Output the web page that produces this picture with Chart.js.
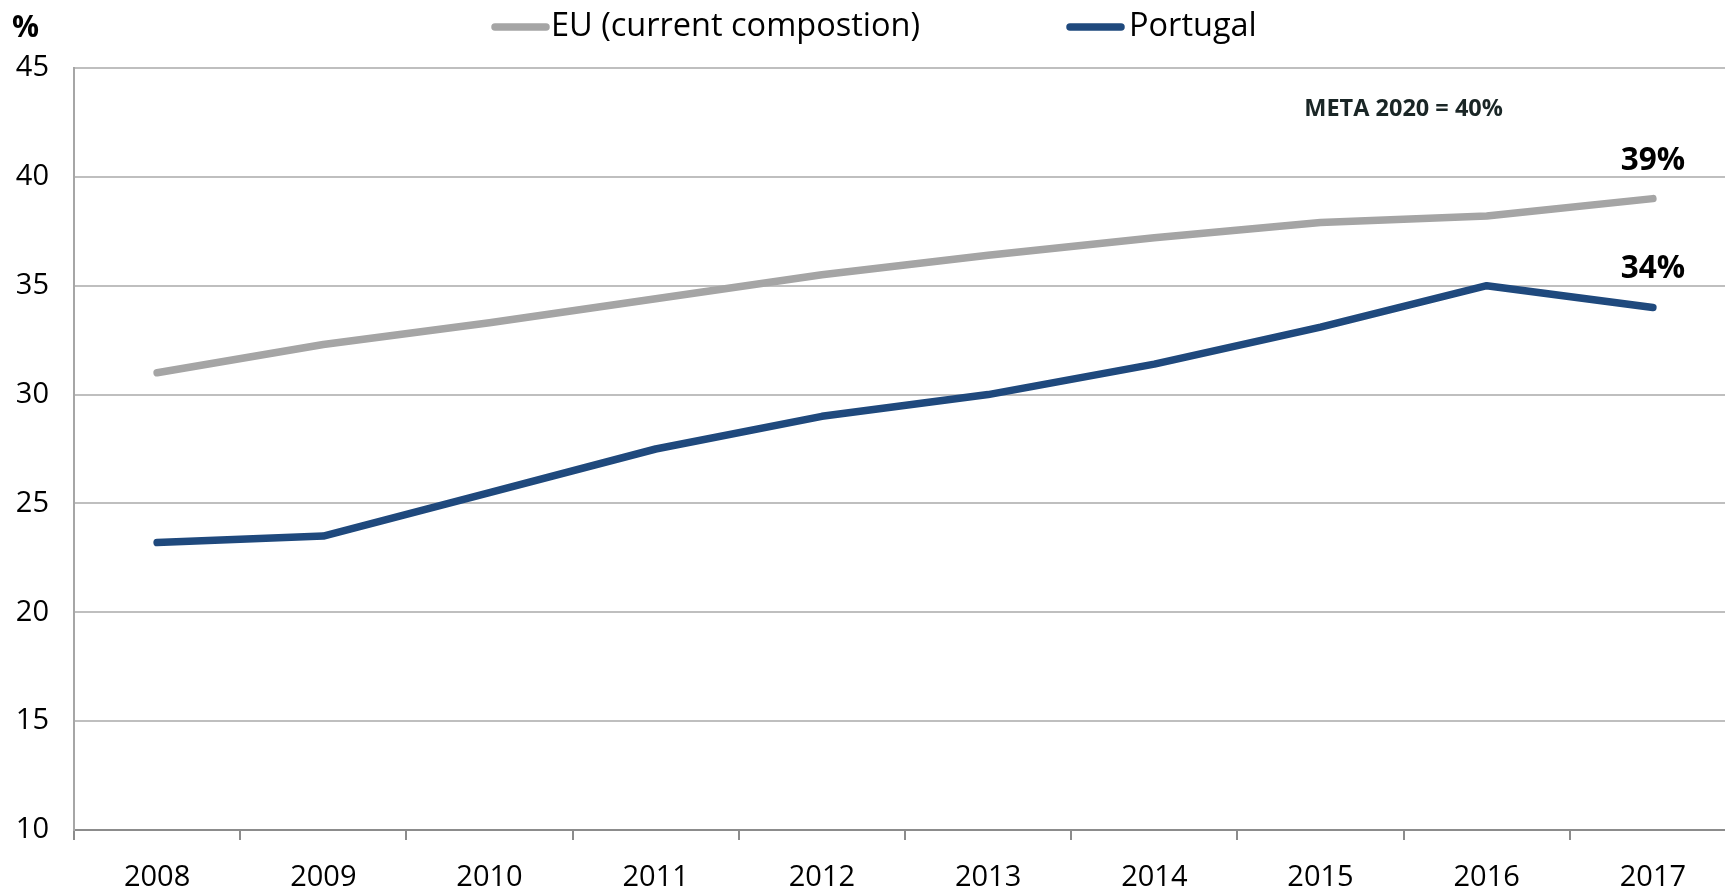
<!DOCTYPE html>
<html><head><meta charset="utf-8">
<script src="https://cdn.jsdelivr.net/npm/chart.js@4"></script>
<style>html,body{margin:0;padding:0;overflow:hidden;background:#fff}#wrap{width:1740px;height:886px}</style>
</head><body><div id="wrap"><canvas id="c" width="1740" height="886"></canvas></div>
<script>
const years = ['2008','2009','2010','2011','2012','2013','2014','2015','2016','2017'];
const euValues = [31.0, 32.3, 33.3, 34.4, 35.5, 36.4, 37.2, 37.9, 38.2, 39.0];
const ptValues = [23.2, 23.5, 25.5, 27.5, 29.0, 30.0, 31.4, 33.1, 35.0, 34.0];
const seriesNames = ['EU (current compostion)', 'Portugal'];
const seriesColors = ['#A5A5A5', '#1F497D'];
const endLabels = ['39%', '34%'];
const targetLabel = 'META 2020 = 40%';
const yUnit = '%';
const yMin = 10, yMax = 45, yStep = 5;

const FONT = "'Open Sans', 'Liberation Sans', sans-serif";

const overlay = {
  id: 'overlay',
  afterDraw(chart) {
    const ctx = chart.ctx, x = chart.scales.x, y = chart.scales.y;
    ctx.save();
    // unit label
    ctx.fillStyle = '#000';
    ctx.font = "bold 30px " + FONT;
    ctx.textAlign = 'left'; ctx.textBaseline = 'middle';
    ctx.fillText(yUnit, 12, 28);
    // legend
    const legendY = 27;
    const starts = [492, 1067];
    ctx.font = "32.5px " + FONT;
    seriesNames.forEach((n, i) => {
      ctx.strokeStyle = seriesColors[i];
      ctx.lineWidth = 7.5; ctx.lineCap = 'round';
      ctx.beginPath(); ctx.moveTo(starts[i] + 3, legendY); ctx.lineTo(starts[i] + 54, legendY); ctx.stroke();
      ctx.fillStyle = '#000';
      ctx.fillText(n, starts[i] + 59 + (i === 1 ? 3 : 0), legendY);
    });
    // target label
    ctx.fillStyle = '#1a2626';
    ctx.font = "bold 23.5px " + FONT;
    ctx.textAlign = 'center';
    ctx.fillText(targetLabel, x.getPixelForValue(7.5), y.getPixelForValue(43.1));
    // end labels
    ctx.fillStyle = '#000';
    ctx.font = "bold 31.5px " + FONT;
    const last = years.length - 1;
    [euValues, ptValues].forEach((vals, i) => {
      ctx.fillText(endLabels[i], x.getPixelForValue(last), y.getPixelForValue(vals[last]) - 38);
    });
    ctx.restore();
  }
};

new Chart(document.getElementById('c'), {
  type: 'line',
  data: {
    labels: years,
    datasets: [
      { label: seriesNames[0], data: euValues, borderColor: seriesColors[0], backgroundColor: seriesColors[0] },
      { label: seriesNames[1], data: ptValues, borderColor: seriesColors[1], backgroundColor: seriesColors[1] }
    ]
  },
  options: {
    responsive: false,
    animation: false,
    layout: { padding: { top: 68, right: 4, left: 0, bottom: 0 } },
    elements: {
      line: { borderWidth: 7.5, tension: 0, borderCapStyle: 'round', borderJoinStyle: 'round' },
      point: { radius: 0, hoverRadius: 0 }
    },
    plugins: { legend: { display: false }, tooltip: { enabled: false } },
    scales: {
      x: {
        offset: true,
        grid: { offset: true, drawOnChartArea: false, drawTicks: true, tickLength: 10, color: '#8C8C8C', lineWidth: 2 },
        border: { color: '#8C8C8C', width: 2 },
        ticks: { color: '#000', font: { family: FONT, size: 29 }, padding: 20, maxRotation: 0, autoSkip: false },
        afterFit(s) { s.height = 56; }
      },
      y: {
        min: yMin, max: yMax,
        grid: { color: '#BFBFBF', lineWidth: 2, drawTicks: false },
        border: { color: '#A6A6A6', width: 2 },
        ticks: { stepSize: yStep, color: '#000', font: { family: FONT, size: 29 }, padding: 25 },
        afterFit(s) { s.width = 74; }
      }
    }
  },
  plugins: [overlay]
});
</script>
</body></html>
